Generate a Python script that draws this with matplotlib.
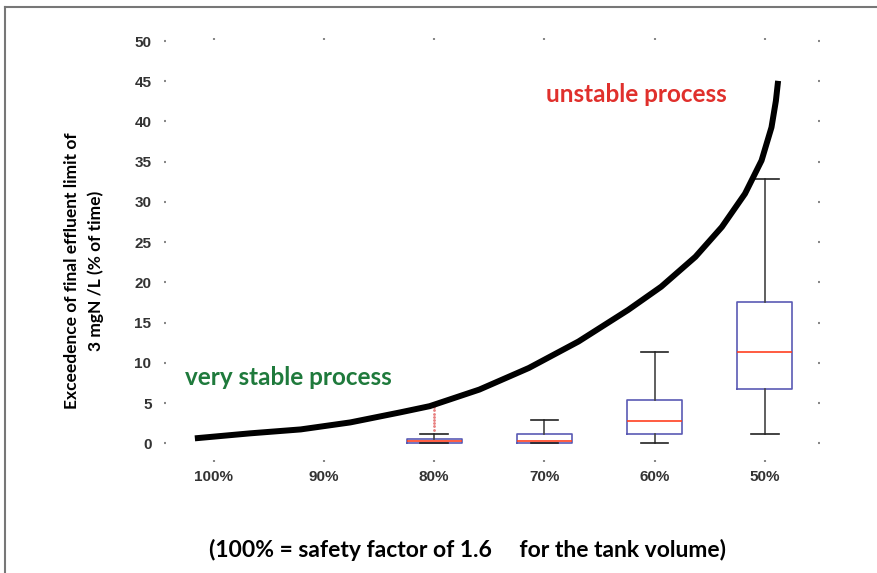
import matplotlib
matplotlib.use("Agg")
import matplotlib.pyplot as plt
from matplotlib.lines import Line2D

# tank volume categories (position 1..6)
categories = ['100%', '90%', '80%', '70%', '60%', '50%']

# box statistics (80%, 70%, 60%, 50%)
box_pos = [3, 4, 5, 6]
box_q1 = [0.0, 0.1, 1.2, 6.7]
box_med = [0.35, 0.35, 2.8, 11.3]
box_q3 = [0.5, 1.2, 5.4, 17.6]
box_lo = [0.0, 0.0, 0.0, 1.2]
box_hi = [1.2, 2.85, 11.4, 32.8]
fliers_80 = [1.7, 2.1, 2.5, 2.9, 3.3, 3.7, 4.1, 4.5]

# trend curve
curve_x = [0.83, 1.33, 1.79, 2.24, 2.69, 2.96, 3.41, 3.86, 4.31, 4.76,
           5.06, 5.37, 5.61, 5.82, 5.97, 6.06, 6.10, 6.12]
curve_y = [0.62, 1.24, 1.73, 2.6, 3.84, 4.62, 6.68, 9.37, 12.66, 16.58,
           19.47, 23.18, 26.89, 31.03, 35.15, 39.27, 42.57, 45.05]

yticks = [0, 5, 10, 15, 20, 25, 30, 35, 40, 45, 50]

fig = plt.figure(figsize=(8.77, 5.73), dpi=100)
ax = fig.add_axes([0.187, 0.194, 0.748, 0.740])

ax.plot(curve_x, curve_y, color='black', lw=4.3, solid_capstyle='butt',
        solid_joinstyle='round', zorder=3)

stats = []
for i in range(len(box_pos)):
    stats.append({
        'med': box_med[i], 'q1': box_q1[i], 'q3': box_q3[i],
        'whislo': box_lo[i], 'whishi': box_hi[i],
        'fliers': fliers_80 if i == 0 else [],
    })
ax.bxp(stats, positions=box_pos, widths=0.5, showfliers=True,
       boxprops=dict(color='#5a5ab4', lw=1.2),
       medianprops=dict(color='#ff4020', lw=1.2),
       whiskerprops=dict(color='#444444', lw=1.2),
       capprops=dict(color='#222222', lw=1.2),
       flierprops=dict(marker='.', markersize=2, markerfacecolor='#e88080',
                       markeredgecolor='#e88080', linestyle='none'))

ax.set_xlim(0.55, 6.5)
ax.set_ylim(-2.3, 50.4)
ax.set_xticks(range(1, 7))
ax.set_xticklabels(categories)
ax.set_yticks(yticks)
ax.set_yticklabels([str(v) for v in yticks])

for s in ax.spines.values():
    s.set_visible(False)
ax.tick_params(axis='both', direction='in', length=1.5, width=1.5, color='#888888',
               labelsize=11, labelcolor='#333333', top=True, right=True)
ax.tick_params(axis='x', pad=6)
ax.tick_params(axis='y', pad=9)
for lab in ax.get_xticklabels() + ax.get_yticklabels():
    lab.set_fontweight('bold')
    lab.set_family('Liberation Sans')

ax.set_ylabel('Exceedence of final effluent limit of\n3 mgN /L (% of time)',
              fontsize=12.5, fontweight='bold', family='Lato',
              linespacing=1.55)
ax.yaxis.set_label_coords(-0.092, 0.45)

ax.text(1.68, 8.2, 'very stable process', color='#1f7a3c', fontsize=17.5,
        fontweight='bold', family='Lato', ha='center', va='center')
ax.text(4.83, 43.4, 'unstable process', color='#e0302c', fontsize=17.5,
        fontweight='bold', family='Lato', ha='center', va='center')

fig.text(0.533, 0.040, '(100% = safety factor of 1.6     for the tank volume)',
         fontsize=16.5, fontweight='bold', family='Lato', ha='center', va='center')

# frame border around the figure (left and top edges visible)
fig.add_artist(Line2D([0.006, 1.0], [0.988, 0.988], color='#777777', lw=1.5))
fig.add_artist(Line2D([0.006, 0.006], [0.0, 0.988], color='#777777', lw=1.5))

fig.savefig('out.png', dpi=100)
